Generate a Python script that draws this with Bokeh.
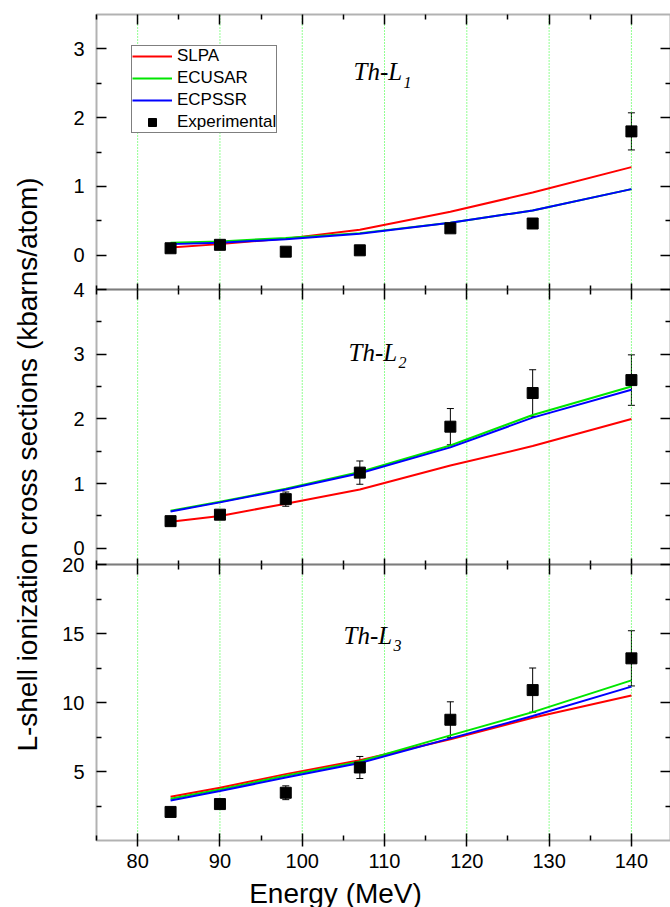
import math
from bokeh.plotting import figure
from bokeh.models import (Range1d, LinearAxis, FixedTicker, Grid, ColumnDataSource,
                          Whisker, TeeHead, Legend, LegendItem, Label, BoxAnnotation)
from bokeh.core.properties import value
from bokeh.embed import file_html
from bokeh.resources import INLINE

# ---------------- data ----------------
energy = [84, 90, 98, 107, 118, 128, 140]

exp_L1 = [0.10, 0.15, 0.05, 0.07, 0.39, 0.46, 1.80]
err_L1 = [0.02, 0.02, 0.01, 0.01, 0.04, 0.05, 0.27]
slpa_L1 = [0.11, 0.16, 0.24, 0.37, 0.63, 0.91, 1.28]
ecusar_L1 = [0.18, 0.20, 0.25, 0.32, 0.47, 0.65, 0.96]
ecpssr_L1 = [0.16, 0.18, 0.23, 0.31, 0.47, 0.65, 0.96]

exp_L2 = [0.42, 0.52, 0.76, 1.17, 1.88, 2.40, 2.60]
err_L2 = [0.04, 0.05, 0.11, 0.18, 0.28, 0.36, 0.39]
slpa_L2 = [0.41, 0.50, 0.69, 0.91, 1.28, 1.58, 2.00]
ecusar_L2 = [0.58, 0.72, 0.92, 1.18, 1.59, 2.06, 2.50]
ecpssr_L2 = [0.57, 0.71, 0.91, 1.16, 1.56, 2.02, 2.45]

exp_L3 = [2.07, 2.64, 3.46, 5.29, 8.75, 10.9, 13.2]
err_L3 = [0.15, 0.20, 0.50, 0.80, 1.30, 1.60, 2.00]
slpa_L3 = [3.17, 3.82, 4.81, 5.82, 7.33, 8.90, 10.5]
ecusar_L3 = [3.03, 3.70, 4.69, 5.72, 7.62, 9.30, 11.6]
ecpssr_L3 = [2.90, 3.58, 4.57, 5.62, 7.40, 9.02, 11.15]

x_ticks = [80, 90, 100, 110, 120, 130, 140]
x_minor = [75, 85, 95, 105, 115, 125, 135, 145]
y_ticks_L1 = [0, 1, 2, 3]
y_minor_L1 = [0.5, 1.5, 2.5]
y_ticks_L2 = [0, 1, 2, 3, 4]
y_minor_L2 = [0.5, 1.5, 2.5, 3.5]
y_ticks_L3 = [5, 10, 15, 20]
y_minor_L3 = [2.5, 7.5, 12.5, 17.5]

series_names = ["SLPA", "ECUSAR", "ECPSSR"]
series_colors = ["#ff0000", "#00e600", "#0000ff"]

# ---------------- layout (pixels) ----------------
W, H = 670, 907
PLOT_LEFT, PLOT_RIGHT = 96, 670          # x pixel of x = X_LO / X_HI
X_LO, X_HI = 75, 144.75
panel_top_px = [14, 289, 564]
panel_bot_px = [289, 564, 840]
panel_lim = [(-0.5, 3.5), (-0.25, 4.0), (0.0, 20.0)]
range_names = ["p1", "p2", "default"]

sx = (PLOT_RIGHT - PLOT_LEFT) / (X_HI - X_LO)
x_start = X_LO - PLOT_LEFT / sx
x_end = x_start + W / sx

full = []
for (lo, hi), t, b in zip(panel_lim, panel_top_px, panel_bot_px):
    s = (hi - lo) / (b - t)
    start = lo - (H - b) * s
    full.append((start, start + H * s))


def px_to_data(px, py, idx):
    lo_full, hi_full = full[idx]
    return x_start + px / sx, lo_full + (H - py) * (hi_full - lo_full) / H


p = figure(width=W, height=H, output_backend="svg", toolbar_location=None, title=None,
           x_range=Range1d(x_start, x_end), y_range=Range1d(*full[2]),
           x_axis_location=None, y_axis_location=None,
           min_border_left=0, min_border_right=0, min_border_top=0, min_border_bottom=0)
p.extra_y_ranges = {"p1": Range1d(*full[0]), "p2": Range1d(*full[1])}
p.center = [r for r in p.center if not isinstance(r, Grid)]
p.outline_line_color = None
p.background_fill_color = "white"
p.border_fill_color = "white"

FONT = "Liberation Sans"
xticker = FixedTicker(ticks=x_ticks, minor_ticks=x_minor)
yticks = [(y_ticks_L1, y_minor_L1), (y_ticks_L2, y_minor_L2), (y_ticks_L3, y_minor_L3)]

# dotted green vertical grid, one set per panel
for (lo, hi), rn in zip(panel_lim, range_names):
    n = len(x_ticks)
    p.segment(x0=x_ticks, x1=x_ticks, y0=[lo] * n, y1=[hi] * n, y_range_name=rn,
              line_color="#22ff22", line_dash="1 2", line_width=1)


def style_axis(ax, tin, tout, mtin, labels):
    ax.axis_line_color = None
    ax.major_tick_line_color = "black"
    ax.major_tick_line_width = 1.5
    ax.minor_tick_line_color = "black"
    ax.minor_tick_line_width = 1.5
    ax.major_tick_in = tin
    ax.major_tick_out = tout
    ax.minor_tick_in = mtin
    ax.minor_tick_out = 0
    if labels:
        ax.major_label_text_font = FONT
        ax.major_label_text_font_size = "20px"
        ax.major_label_text_color = "black"
    else:
        ax.major_label_text_font_size = "0px"
        ax.major_label_text_alpha = 0


for i, (rn, (tk, mn)) in enumerate(zip(range_names, yticks)):
    lo, hi = panel_lim[i]
    p.add_layout(BoxAnnotation(left=X_LO, right=X_HI, bottom=lo, top=hi, y_range_name=rn,
                               fill_alpha=0, fill_color=None, line_color="black",
                               line_width=2, level="overlay"))
    left = LinearAxis(y_range_name=rn, fixed_location=X_LO,
                      ticker=FixedTicker(ticks=tk, minor_ticks=mn))
    style_axis(left, 10, 0, 5, True)
    left.major_label_standoff = 12
    p.add_layout(left, "left")
    right = LinearAxis(y_range_name=rn, fixed_location=X_HI,
                       ticker=FixedTicker(ticks=tk, minor_ticks=mn))
    style_axis(right, 10, 0, 5, False)
    p.add_layout(right, "right")
    top = LinearAxis(y_range_name=rn, fixed_location=hi, ticker=xticker)
    style_axis(top, 10, 0, 5, False)
    p.add_layout(top, "above")
    bottom = LinearAxis(y_range_name=rn, fixed_location=lo, ticker=xticker)
    if i == 2:
        style_axis(bottom, 7, 6, 5, True)
        bottom.major_label_standoff = 7
        bottom.axis_label = "Energy (MeV)"
        bottom.axis_label_text_font = FONT
        bottom.axis_label_text_font_size = "28px"
        bottom.axis_label_text_font_style = "normal"
        bottom.axis_label_text_color = "black"
        bottom.axis_label_standoff = 7
    else:
        style_axis(bottom, 6, 0, 4, False)
    p.add_layout(bottom, "below")

# ---------------- data glyphs ----------------
panels = [
    ("p1", exp_L1, err_L1, [slpa_L1, ecusar_L1, ecpssr_L1]),
    ("p2", exp_L2, err_L2, [slpa_L2, ecusar_L2, ecpssr_L2]),
    ("default", exp_L3, err_L3, [slpa_L3, ecusar_L3, ecpssr_L3]),
]
legend_renderers = None
for rn, ex, er, curves in panels:
    rs = []
    for vals, col in zip(curves, series_colors):
        r = p.line(energy, vals, line_color=col, line_width=2, y_range_name=rn)
        rs.append(r)
    src = ColumnDataSource(dict(x=energy, y=ex,
                                lower=[a - b for a, b in zip(ex, er)],
                                upper=[a + b for a, b in zip(ex, er)]))
    w = Whisker(source=src, base="x", lower="lower", upper="upper", dimension="height",
                y_range_name=rn, line_color="black", line_width=1,
                upper_head=TeeHead(size=7, line_color="black", line_width=1),
                lower_head=TeeHead(size=7, line_color="black", line_width=1))
    p.add_layout(w)
    sq = p.scatter("x", "y", source=src, marker="square", size=11, fill_color="black",
                   line_color="black", y_range_name=rn)
    rs.append(sq)
    if legend_renderers is None:
        legend_renderers = rs

# ---------------- panel labels ----------------
label_main_px = [(353, 71), (348, 352), (343, 635)]
label_sub_px = [(403, 82), (398, 362), (393, 645)]
subs = ["1", "2", "3"]
for idx, rn in enumerate(range_names):
    mx, my = px_to_data(*label_main_px[idx], idx)
    p.text(x=[mx], y=[my], text=["Th-L"], y_range_name=rn,
           text_font=value("Liberation Serif"), text_font_style="italic",
           text_font_size="25px", text_color="black", text_baseline="alphabetic",
           text_align="left")
    ux, uy = px_to_data(*label_sub_px[idx], idx)
    p.text(x=[ux], y=[uy], text=[subs[idx]], y_range_name=rn,
           text_font=value("Liberation Serif"), text_font_style="italic",
           text_font_size="16px", text_color="black", text_baseline="alphabetic",
           text_align="left")

# ---------------- y title ----------------
tx, ty = px_to_data(27, 464, 2)
p.add_layout(Label(x=tx, y=ty, text="L-shell ionization cross sections (kbarns/atom)",
                   angle=math.pi / 2, text_align="center", text_baseline="middle",
                   text_font=FONT, text_font_size="28px", text_color="black"))

# ---------------- legend ----------------
legend = Legend(items=[LegendItem(label=n, renderers=[r]) for n, r in
                       zip(series_names + ["Experimental"], legend_renderers)],
                location=(131, 907 - 47 - 86), orientation="vertical")
legend.border_line_color = "black"
legend.border_line_width = 1
legend.background_fill_color = "white"
legend.background_fill_alpha = 1
legend.padding = 0
legend.margin = 0
legend.spacing = 2
legend.glyph_width = 40
legend.glyph_height = 20
legend.label_height = 20
legend.label_standoff = 5
legend.label_text_font = FONT
legend.label_text_font_size = "17px"
legend.label_text_color = "black"
p.add_layout(legend)

open("out.html", "w").write(file_html(p, INLINE))
